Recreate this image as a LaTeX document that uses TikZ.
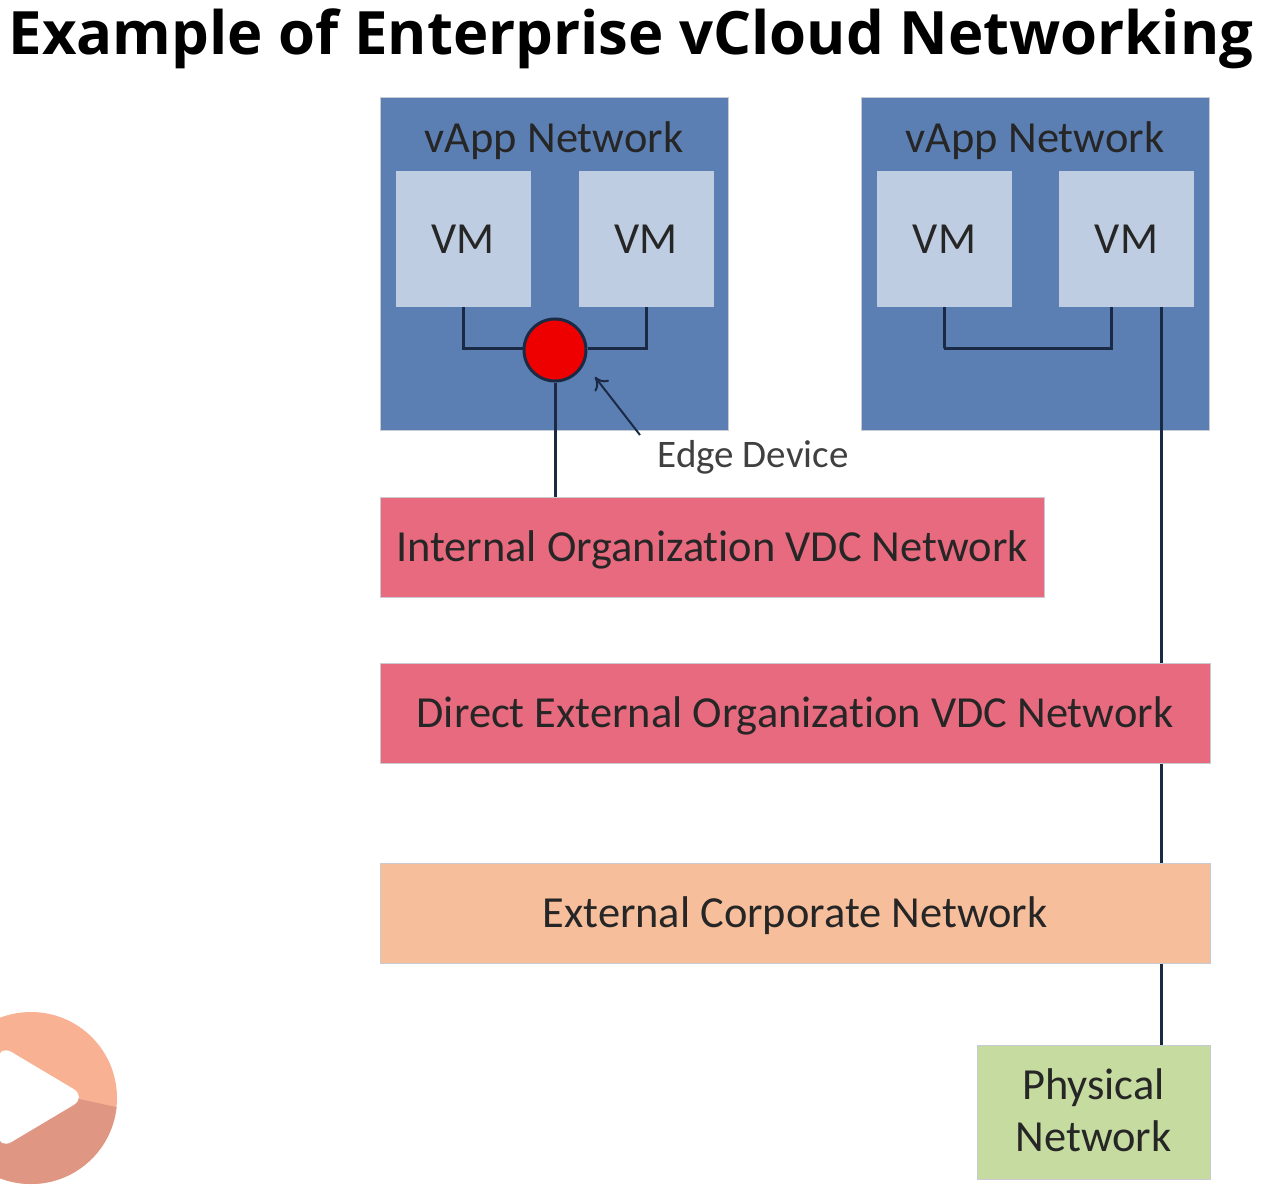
\documentclass[tikz,border=0pt]{standalone}
\usepackage{fontspec}
\setmainfont[Ligatures=NoCommon]{Carlito}
\newfontfamily\titlefont{Open Sans}
\usetikzlibrary{arrows.meta}
\definecolor{netblue}{HTML}{5B7FB3}
\definecolor{vmblue}{HTML}{BFCDE2}
\definecolor{vdcred}{HTML}{E86A7E}
\definecolor{corporange}{HTML}{F6BE9B}
\definecolor{physgreen}{HTML}{C5DB9F}
\definecolor{edgered}{HTML}{EE0000}
\definecolor{wire}{HTML}{1B2A44}
\definecolor{edgegray}{HTML}{C8CCD2}
\definecolor{playlight}{HTML}{F8B193}
\definecolor{playdark}{HTML}{DF9783}
\tikzset{
	block/.style={draw=edgegray,line width=0.5pt,inner sep=0,font=\fontsize{22.2}{26}\selectfont,text=black!85,align=center},
	onerow/.style={text height=14pt,text depth=0pt},
	wireline/.style={draw=wire,line width=1.5pt}
}
\begin{document}
\begin{tikzpicture}[x=0.5pt,y=-0.5pt]
\useasboundingbox (0,0) rectangle (1270,1188);
\node[inner sep=0,text height=21.5pt,text depth=0pt,font=\titlefont\bfseries\fontsize{29.9}{36}\selectfont] (title) at (631,33) {Example of Enterprise vCloud Networking};
% vapp networks
\node[block,fill=netblue,minimum width=174pt,minimum height=166pt] (netA) at (554,264) {};
\node[block,fill=netblue,minimum width=174pt,minimum height=166pt] (netB) at (1035,264) {};
\node[block,onerow,draw=none] (netAlabel) at (554,139) {vApp Network};
\node[block,onerow,draw=none] (netBlabel) at (1035,139) {vApp Network};
\node[block,draw=none,fill=vmblue,minimum size=67.5pt] (vmA) at (463,239) {VM};
\node[block,draw=none,fill=vmblue,minimum size=67.5pt] (vmB) at (646,239) {VM};
\node[block,draw=none,fill=vmblue,minimum size=67.5pt] (vmC) at (944.5,239) {VM};
\node[block,draw=none,fill=vmblue,minimum size=67.5pt] (vmD) at (1126.5,239) {VM};
% network bars
\node[block,onerow,fill=vdcred,minimum width=332pt,minimum height=50pt] (internal) at (712,547) {Internal Organization VDC Network};
\node[block,onerow,fill=vdcred,minimum width=415pt,minimum height=50pt] (direct) at (795,713) {Direct External Organization VDC Network};
\node[block,onerow,fill=corporange,minimum width=415pt,minimum height=50pt] (corporate) at (795,913) {External Corporate Network};
\node[block,text depth=2pt,fill=physgreen,minimum width=116.5pt,minimum height=67pt] (physical) at (1093.5,1112) {Physical\\[0pt]Network};
% connectors
\node[circle,draw=wire,fill=edgered,line width=1.5pt,minimum size=31pt,inner sep=0] (edge) at (555,350) {};
\coordinate (busC) at (944,348);
\coordinate (busD) at (1111,307);
\coordinate (trunk) at (1161,307);
\draw[wireline] (vmA.south) |- (edge.west |- busC);
\draw[wireline] (vmB.south) |- (edge.east |- busC);
\draw[wireline] (edge.south) -- (edge.south |- internal.north);
\draw[wireline] (vmC.south) |- (busC) -| (busD);
\draw[wireline] (trunk) -- (trunk |- direct.north);
\draw[wireline] (trunk |- direct.south) -- (trunk |- corporate.north);
\draw[wireline] (trunk |- corporate.south) -- (trunk |- physical.north);
% edge device label
\node[inner sep=0,text=black!75,text height=12pt,text depth=0pt,font=\fontsize{19.5}{24}\selectfont] (edgelabel) at (753,455) {Edge Device};
\coordinate (edgetip) at (595,377);
\coordinate (edgetail) at (640,435);
\draw[draw=wire,line width=1pt,-{To[length=6pt,width=9pt]}] (edgetail) -- (edgetip);
% play button
\begin{scope}
\clip (0,0) rectangle (1270,1188);
\fill[playlight] (31,1098) circle (86);
\begin{scope}
\clip (31,1098) circle (86);
\fill[playdark] (70,1097) -- (125,1109) -- (125,1190) -- (-5,1190) -- (-5,1140) -- cycle;
\end{scope}
\fill[white,rounded corners=8pt] (-2,1044) -- (87,1097) -- (-2,1150) -- cycle;
\end{scope}
\end{tikzpicture}
\end{document}
